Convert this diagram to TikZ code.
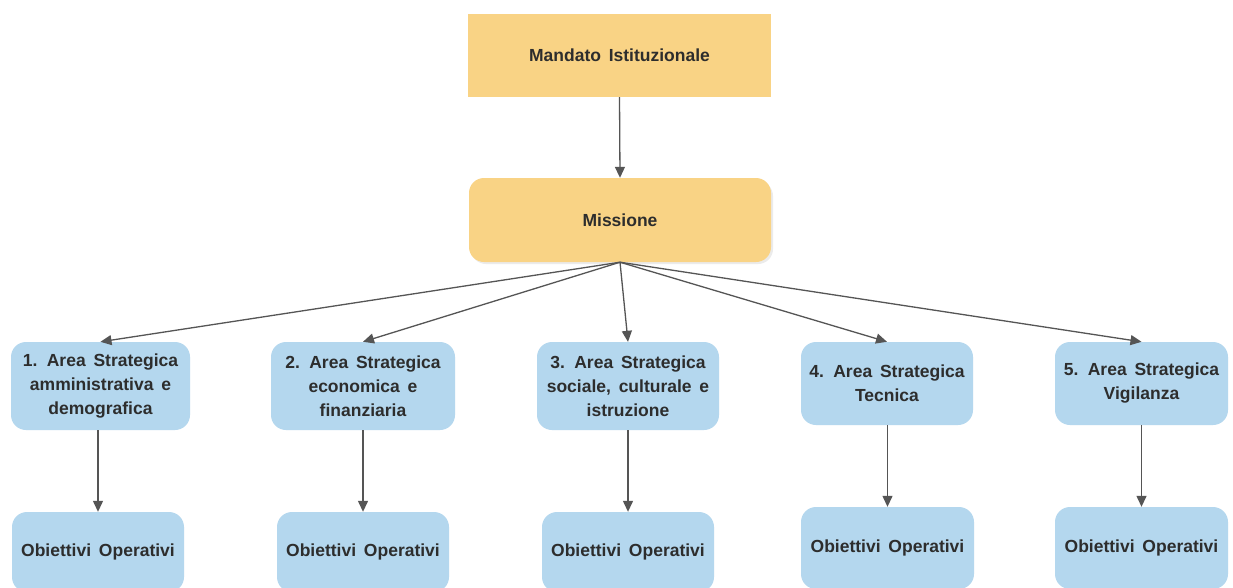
\documentclass[tikz,border=0pt]{standalone}
\usepackage{fontspec}
\setmainfont[WordSpace=1.6]{Liberation Sans}
\usetikzlibrary{arrows.meta}
\definecolor{orangefill}{RGB}{249,211,133}
\definecolor{bluefill}{RGB}{180,215,238}
\definecolor{txt}{RGB}{45,45,45}
\definecolor{arrowgray}{RGB}{85,85,85}
\tikzset{
  base/.style={inner sep=0pt, align=center, text=txt,
    font=\fontsize{17.5}{24}\selectfont\bfseries},
  orangebox/.style={base, fill=orangefill, draw=none},
  bluebox/.style={base, fill=bluefill, draw=none, rounded corners=15pt},
  arr/.style={draw=arrowgray, line width=1.3pt,
    -{Triangle[length=11pt,width=10pt]}},
}
\begin{document}
\begin{tikzpicture}[x=1pt,y=-1pt]
\useasboundingbox (0,0) rectangle (1233,587);
\fill[white] (0,0) rectangle (1233,587);
\clip (0,0) rectangle (1233,587);

\node[orangebox, minimum width=303pt, minimum height=83pt] (mandato) at (619.5,55.5) {Mandato Istituzionale};
\fill[black!8, rounded corners=15pt] (471,181) rectangle (773,264);
\node[orangebox, rounded corners=15pt, minimum width=302pt, minimum height=84pt] (missione) at (620,220) {Missione};

\node[bluebox, minimum width=179pt, minimum height=88pt] (a1) at (100.5,386) {1. Area Strategica\\amministrativa e\\demografica};
\node[bluebox, minimum width=184pt, minimum height=88pt] (a2) at (363,386) {2. Area Strategica\\economica e\\finanziaria};
\node[bluebox, minimum width=182pt, minimum height=88pt] (a3) at (628,386) {3. Area Strategica\\sociale, culturale e\\istruzione};
\node[bluebox, minimum width=172pt, minimum height=83pt] (a4) at (887,383.5) {4. Area Strategica\\Tecnica};
\node[bluebox, minimum width=173pt, minimum height=83pt] (a5) at (1141.5,383.5) {5. Area Strategica\\Vigilanza};

\node[bluebox, minimum width=172pt, minimum height=80pt] (o1) at (98,552) {Obiettivi Operativi};
\node[bluebox, minimum width=172pt, minimum height=80pt] (o2) at (363,552) {Obiettivi Operativi};
\node[bluebox, minimum width=172pt, minimum height=80pt] (o3) at (628,552) {Obiettivi Operativi};
\node[bluebox, minimum width=173pt, minimum height=82pt] (o4) at (887.5,548) {Obiettivi Operativi};
\node[bluebox, minimum width=173pt, minimum height=82pt] (o5) at (1141.5,548) {Obiettivi Operativi};

\draw[arr] (mandato.south) -- (missione.north);
\foreach \a in {a1,a2,a3,a4,a5}{
  \draw[arr] (missione.south) -- (\a.north);
}
\draw[arr] (o1.north |- a1.south) -- (o1.north);
\draw[arr] (o2.north |- a2.south) -- (o2.north);
\draw[arr] (o3.north |- a3.south) -- (o3.north);
\draw[arr] (o4.north |- a4.south) -- (o4.north);
\draw[arr] (o5.north |- a5.south) -- (o5.north);
\end{tikzpicture}
\end{document}
